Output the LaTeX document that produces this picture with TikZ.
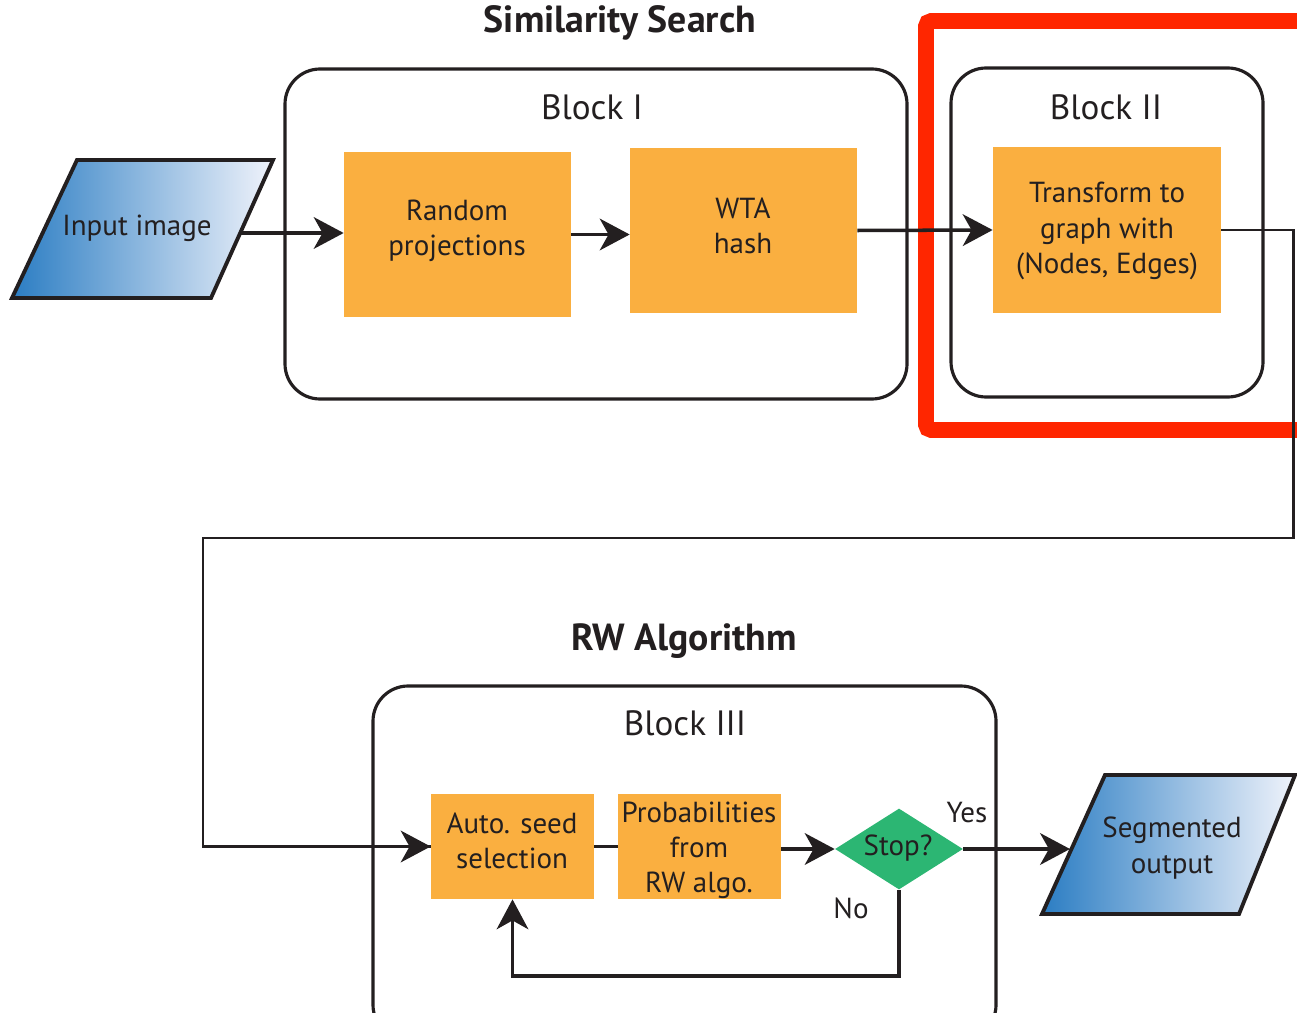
\documentclass[tikz,border=0pt]{standalone}
\usepackage{fontspec}
\setmainfont{PT Sans}
\usetikzlibrary{arrows.meta,shapes.geometric,fit}
\definecolor{ink}{HTML}{231F20}
\definecolor{stepfill}{HTML}{FAAF40}
\definecolor{decision}{HTML}{2CB673}
\definecolor{blueL}{HTML}{2B7DC3}
\definecolor{blueR}{HTML}{F0F3FB}
\definecolor{focusred}{RGB}{255,38,0}
\tikzset{
  block/.style={draw=ink, line width=1.8pt, rounded corners=20pt, inner sep=0pt},
  stepbox/.style={fill=stepfill, draw=none, inner sep=0pt},
  label/.style={text=ink, align=center, font=\fontsize{16.5}{20}\selectfont},
  blocklabel/.style={text=ink, font=\fontsize{20}{24}\selectfont},
  heading/.style={text=ink, font=\bfseries\fontsize{21.5}{25}\selectfont},
  io/.style={draw=ink, line width=2.2pt, left color=blueL, right color=blueR},
  wire/.style={draw=ink, line width=2pt},
  flow/.style={wire, -{Stealth[length=17pt,width=18pt,inset=5pt]}},
}
\begin{document}
\begin{tikzpicture}[x=0.02cm, y=-0.02cm]
\useasboundingbox (0,0) rectangle (1297,1013);

% headings
\node[heading] (simtitle) at (620,23) {Similarity Search};
\node[heading] (rwtitle) at (684,641) {RW Algorithm};

% blocks
\node[block, fit={(285,69) (907,399)}] (blk1) {};
\node[blocklabel] (blk1lab) at (592,107) {Block I};
\node[block, fit={(951,68) (1263,397)}] (blk2) {};
\node[blocklabel] (blk2lab) at (1106,107) {Block II};
\node[block, fit={(373,686) (996,1040)}] (blk3) {};
\node[blocklabel] (blk3lab) at (685,723) {Block III};

% highlight frame around block II
\draw[focusred, line width=9pt, rounded corners=3pt] (1304,21) -- (926,21) -- (926,430) -- (1304,430);

% input / output
\path[io] (77,160) -- (273,160) -- (211,298) -- (12,298) -- cycle;
\node[label] (inlab) at (137,228) {Input image};
\coordinate (inR) at (240,233);
\path[io] (1105,775) -- (1295,775) -- (1239,914) -- (1042,914) -- cycle;
\node[label] (outlab) at (1172,848) {Segmented\\output};
\coordinate (outL) at (1070,849);

% processing steps
\node[stepbox, fit={(344,152) (571,317)}] (rp) {};
\node[label] at (457,231) {Random\\projections};
\node[stepbox, fit={(630,148) (857,313)}] (wta) {};
\node[label] at (743,226) {WTA\\hash};
\node[stepbox, fit={(993,147) (1221,313)}] (tr) {};
\node[label] at (1107,231) {Transform to\\graph with\\(Nodes, Edges)};
\node[stepbox, fit={(431,794) (594,899)}] (seed) {};
\node[label] at (512,841) {Auto. seed\\selection};
\node[stepbox, fit={(618,794) (781,899)}] (prob) {};
\node[label] at (699,850) {Probabilities\\from\\RW algo.};
\node[diamond, fill=decision, aspect=1.6, inner sep=0pt, minimum width=2.56cm,
      minimum height=1.62cm] (stop) at (899,849) {};
\node[label] at (898,848) {Stop?};
\node[label] (yes) at (967,813) {Yes};
\node[label] (no) at (851,908) {No};

% connectors
\coordinate (turnR) at (1293,538);
\coordinate (turnL) at (203,538);
\coordinate (loopC) at (899,976);
\draw[flow] (inR) -- (inR -| rp.west);
\draw[flow] (rp.east) -- (rp.east -| wta.west);
\draw[flow] (wta.east) -- (tr.west);
\draw[wire, line width=1.7pt] (tr.east) -| (turnR) -- (turnL) |- (seed.west);
\draw[flow] (turnL |- seed.west) ++(140,0) -- (seed.west);
\draw[wire] (seed.east) -- (prob.west);
\draw[flow] (prob.east |- stop) -- (stop.west);
\draw[flow] (stop.east) -- (outL);
\draw[flow] (stop.south) -- (loopC) -| (seed.south);
\end{tikzpicture}
\end{document}
